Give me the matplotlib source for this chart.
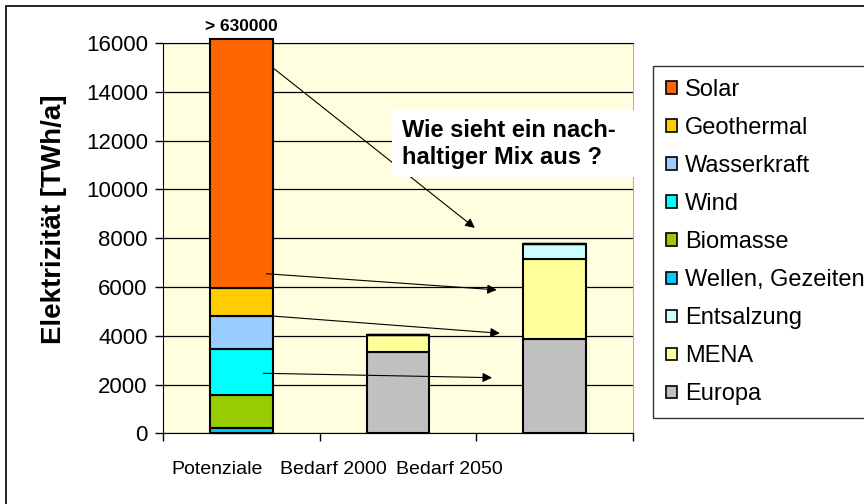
import numpy as np
import matplotlib
matplotlib.use("Agg")
import matplotlib.pyplot as plt
from matplotlib.patches import Rectangle

# categories and stacked series (TWh/a), bottom to top
categories = ["Potenziale", "Bedarf 2000", "Bedarf 2050"]
europa = [0, 3330, 3850]
mena = [0, 700, 3300]
entsalzung = [0, 0, 600]
wellen = [200, 0, 0]
biomasse = [1350, 0, 0]
wind = [1900, 0, 0]
wasserkraft = [1350, 0, 0]
geothermal = [1150, 0, 0]
solar = [10200, 0, 0]   # truncated, real potential > 630000

series_names = ["Europa", "MENA", "Entsalzung", "Wellen, Gezeiten", "Biomasse",
                "Wind", "Wasserkraft", "Geothermal", "Solar"]
series_vals = [europa, mena, entsalzung, wellen, biomasse, wind, wasserkraft,
               geothermal, solar]
series_colors = ["#C0C0C0", "#FFFF99", "#CCFFFF", "#00CCFF", "#99CC00",
                 "#00FFFF", "#99CCFF", "#FFCC00", "#FF6600"]

yticks = [0, 2000, 4000, 6000, 8000, 10000, 12000, 14000, 16000]
top_note = "> 630000"
question = "Wie sieht ein nach-\nhaltiger Mix aus ?"
ylabel = "Elektrizität [TWh/a]"

plt.rcParams["font.family"] = ["Liberation Sans", "DejaVu Sans"]

fig = plt.figure(figsize=(8.64, 5.04), dpi=100)
ax = fig.add_axes([0.1887, 0.1403, 0.5440, 0.7744])
ax.set_facecolor("#FFFFE0")

# chart area border (runs off the right/bottom edge like the original)
fig.patches.append(Rectangle((6 / 864, -0.1), 1.2, 1 - 6 / 504 + 0.1,
                             transform=fig.transFigure, fill=False,
                             edgecolor="black", linewidth=1.2))

x = np.arange(len(categories))
bottom = np.zeros(len(categories))
handles = []
for name, vals, col in zip(series_names, series_vals, series_colors):
    vals = np.array(vals, dtype=float)
    bars = ax.bar(x, vals, width=0.4, bottom=bottom, color=col,
                  edgecolor="black", linewidth=1.5, label=name, zorder=3,
                  clip_on=False)
    handles.append(bars)
    bottom += vals

ax.text(x[0], bottom[0] + 230, top_note, ha="center", va="bottom",
        fontsize=12.5, fontweight="bold")

ax.set_xlim(-0.5, 2.5)
ax.set_ylim(0, 16000)
ax.set_yticks(yticks)
ax.set_yticklabels([str(v) for v in yticks])
ax.tick_params(axis="y", labelsize=16, length=6, width=1, pad=5)
ax.yaxis.grid(True, color="black", linewidth=0.9, zorder=1)
ax.set_axisbelow(True)

# category labels sit left of the bars in the original
ax.set_xticks(x + np.array([-0.155, -0.41, -0.675]))
ax.set_xticklabels(categories, fontsize=14)
ax.tick_params(axis="x", length=0, pad=20)
ax.set_xticks([-0.5, 0.5, 1.5, 2.5], minor=True)
ax.tick_params(axis="x", which="minor", length=6, width=1, color="black")

ax.set_ylabel(ylabel, fontsize=20, fontweight="bold")
ax.yaxis.set_label_coords(-0.232, 0.548)
ax.yaxis.label.set_va("center")

for side in ["left", "bottom", "top"]:
    ax.spines[side].set_color("black")
ax.spines["right"].set_color("#B0B0B0")

# arrows from the potentials to the 2050 mix
arrows = [((0.20, 14990), (1.49, 8420)),
          ((0.16, 6540), (1.63, 5880)),
          ((0.15, 4830), (1.65, 4100)),
          ((0.14, 2460), (1.60, 2280))]
for start, end in arrows:
    ax.annotate("", xy=end, xytext=start,
                arrowprops=dict(arrowstyle="-|>", color="black", lw=0.8,
                                mutation_scale=14, shrinkA=0, shrinkB=0),
                zorder=5)

ax.add_patch(Rectangle((0.4866, 0.6567), 0.52, 0.1716, transform=ax.transAxes,
                       facecolor="white", edgecolor="none", zorder=6,
                       clip_on=False))
ax.text(0.508, 0.741, question, transform=ax.transAxes, ha="left",
        va="center", fontsize=17, fontweight="bold", zorder=7,
        linespacing=1.2)

leg = fig.legend(handles=handles[::-1], loc="upper left",
                 bbox_to_anchor=(653 / 864, 1 - 66 / 504), fontsize=17,
                 frameon=True, fancybox=False, handlelength=0.45,
                 handleheight=0.45, handletextpad=0.35, labelspacing=0.68,
                 borderpad=0.55, borderaxespad=0)
leg.get_frame().set_edgecolor("black")
leg.get_frame().set_linewidth(1.0)
for h in leg.legend_handles:
    h.set_linewidth(1.2)

fig.savefig("out.png", dpi=100)
